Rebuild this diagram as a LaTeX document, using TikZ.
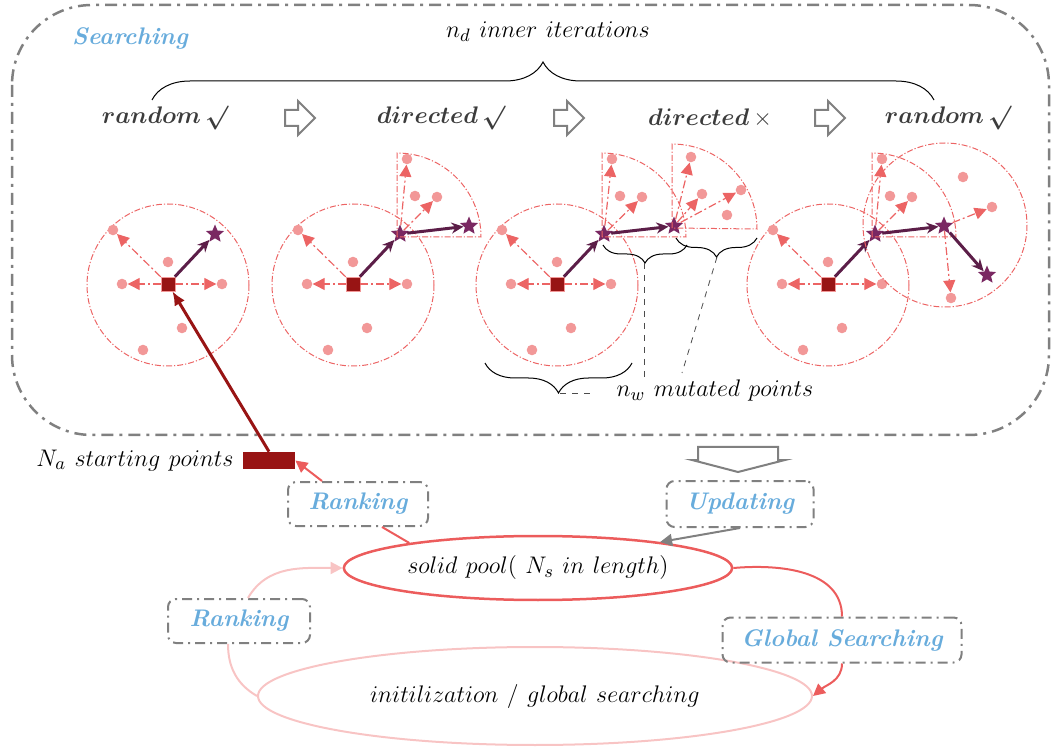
\documentclass[tikz,border=0pt]{standalone}
\usepackage{amsmath}
\usepackage{amssymb}
\usepackage{bm}
\usetikzlibrary{shapes.geometric,shapes.arrows,arrows.meta,decorations.pathreplacing,positioning}

\definecolor{boxgray}{RGB}{128,128,128}
\definecolor{labelblue}{RGB}{104,172,220}
\definecolor{ringred}{RGB}{236,100,100}
\definecolor{dotpink}{RGB}{242,152,152}
\definecolor{startred}{RGB}{152,20,20}
\definecolor{starpurple}{RGB}{122,40,98}
\definecolor{arrowpurple}{RGB}{92,30,72}
\definecolor{poolred}{RGB}{236,92,92}
\definecolor{palepink}{RGB}{248,196,196}
\definecolor{textgray}{RGB}{60,60,60}

\begin{document}
\begin{tikzpicture}[x=0.5pt, y=-0.5pt,
                    every node/.style={font=\fontsize{13}{15}\selectfont},
                    ring/.style={ringred, line width=0.5pt, dash pattern=on 3pt off 1pt on 0.6pt off 1pt},
                    dot/.style={circle, fill=dotpink, inner sep=0pt, minimum size=5.3pt},
                    start/.style={rectangle, fill=startred, draw=dotpink, line width=0.3pt, inner sep=0pt, minimum size=7pt},
                    starnode/.style={star, star points=5, star point ratio=2.2, fill=starpurple, inner sep=0pt, minimum size=9.5pt},
                    mutate/.style={ringred, line width=0.6pt, dash pattern=on 4pt off 1.5pt on 1pt off 1.5pt,
                                   -{Triangle[length=6pt,width=6pt]}},
                    move/.style={arrowpurple, line width=1.5pt, -{Stealth[length=6pt,width=5.5pt]}},
                    stage/.style={text=textgray, font=\fontsize{12.3}{14}\selectfont},
                    hollow/.style={single arrow, draw=boxgray, line width=1pt, fill=white, minimum height=15pt,
                                   minimum width=16pt, inner sep=3.5pt, single arrow head extend=4.5pt},
                    label/.style={draw=boxgray, line width=1pt, dash pattern=on 5pt off 2.5pt on 1pt off 2.5pt,
                                  rounded corners=4pt, text=labelblue, inner sep=0pt,
                                  font=\fontsize{12}{14}\selectfont\bfseries\itshape},
                    curly/.style={decorate, decoration={brace, amplitude=#1}, draw=black, line width=0.5pt},
                    guide/.style={black!70, dashed, line width=0.4pt},
                    redlink/.style={poolred, line width=1pt},
                    palelink/.style={palepink, line width=1pt}]
  \useasboundingbox (0,0) rectangle (1057,749);

  % searching frame
  \draw[boxgray, line width=1.25pt, dash pattern=on 6pt off 3pt on 1.5pt off 3pt, rounded corners=40pt]
    (12,5) rectangle (1049,435);
  \node[font=\fontsize{12}{14}\selectfont\bfseries\itshape, text=labelblue] (searching) at (130,38) {Searching};
  \node (inner) at (548,32) {$n_d\ inner\ iterations$};
  \draw[curly=19pt] (152,100) -- (934,100);

  % stages
  \node[stage] (rnda) at (165,118) {$\bm{random\,\surd}$};
  \node[hollow] (ha) at (296,118) {};
  \node[stage] (dira) at (441,118) {$\bm{directed\,\surd}$};
  \node[hollow] (hb) at (565,118) {};
  \node[stage] (dirb) at (710,118) {$\bm{directed}\,\times$};
  \node[hollow] (hc) at (826,118) {};
  \node[stage] (rndb) at (948,118) {$\bm{random\,\surd}$};

  % neighbourhoods
  \foreach \i/\cx in {1/168,2/353,3/557,4/828}{
    \draw[ring] (\cx,285) circle (81);
    \node[dot] (ul\i) at (\cx-55,230) {};
    \node[dot] (l\i) at (\cx-46,284) {};
    \node[dot] (r\i) at (\cx+54,284) {};
    \node[dot] (t\i) at (\cx,262) {};
    \node[dot] (b\i) at (\cx+14,328) {};
    \node[dot] (bb\i) at (\cx-25,350) {};
    \node[start] (sq\i) at (\cx,284) {};
    \node[starnode] (s\i) at (\cx+47,234) {};
    \draw[mutate] (sq\i) -- (ul\i);
    \draw[mutate] (sq\i) -- (l\i);
    \draw[mutate] (sq\i) -- (r\i);
    \draw[move] (sq\i) -- (s\i);
  }

  % directed sectors
  \foreach \i/\sx in {2/399,3/604,4/874}{
    \draw[ring] (\sx-2,237) -- (\sx-2,153) arc (-90:0:84) -- cycle;
    \node[dot] (sa\i) at (\sx+8,159) {};
    \node[dot] (sb\i) at (\sx+16,196) {};
    \node[dot] (sc\i) at (\sx+38,197) {};
    \node[starnode] (tt\i) at (\sx+70,226) {};
    \draw[mutate] (s\i) -- (sa\i);
    \draw[mutate] (s\i) -- (sc\i);
    \draw[move] (s\i) -- (tt\i);
  }

  % failed directed step
  \draw[ring] (672,228) -- (672,144) arc (-90:0:85) -- cycle;
  \node[dot] (fa) at (691,157) {};
  \node[dot] (fb) at (702,194) {};
  \node[dot] (fc) at (741,190) {};
  \node[dot] (fd) at (727,215) {};
  \draw[mutate] (tt3) -- (fa);
  \draw[mutate] (tt3) -- (fb);
  \draw[mutate] (tt3) -- (fc);

  % random step again
  \draw[ring] (945,225) circle (82);
  \node[dot] (ga) at (963,177) {};
  \node[dot] (gb) at (992,207) {};
  \node[dot] (gc) at (951,298) {};
  \node[starnode] (u4) at (987,275) {};
  \draw[mutate] (tt4) -- (gb);
  \draw[mutate] (tt4) -- (gc);
  \draw[move] (tt4) -- (u4);

  % mutated points
  \draw[curly=9pt] (687,245) -- (603,245);
  \draw[curly=9.5pt] (757,238) -- (676,238);
  \draw[curly=15pt] (632,363) -- (485,363);
  \coordinate (tipa) at (644,263);
  \coordinate (tipb) at (717,257);
  \coordinate (tipc) at (560,393);
  \coordinate (enda) at (644,377);
  \coordinate (endb) at (682,373);
  \coordinate (endc) at (594,393);
  \draw[guide] (tipa) -- (enda);
  \draw[guide] (tipb) -- (endb);
  \draw[guide] (tipc) -- (endc);
  \node (mw) at (715,391) {$n_w\ mutated\ points$};

  % starting points
  \node[rectangle, fill=startred, inner sep=0pt, minimum width=26pt, minimum height=8.5pt] (bar) at (269,460.5) {};
  \node[left=1pt of bar] (na) {$N_a\ starting\ points$};
  \draw[startred, line width=1.5pt, -{Latex[length=7pt,width=6pt]}] (bar.north) -- (sq1);

  % pools
  \node[ellipse, draw=poolred, line width=1.25pt, minimum width=177pt, minimum height=32pt] (pool) at (538,568)
    {$solid\ pool(\ N_s\ in\ length)$};
  \node[ellipse, draw=palepink, line width=1pt, minimum width=277pt, minimum height=49pt] (init) at (535,696)
    {$initilization\ /\ global\ searching$};

  \node[label, minimum width=70pt, minimum height=22pt] (ranka) at (358,504) {Ranking};
  \node[label, minimum width=73.5pt, minimum height=23pt] (upd) at (740,504) {Updating};
  \node[label, minimum width=71pt, minimum height=22pt] (rankb) at (239,621) {Ranking};
  \node[label, minimum width=119.5pt, minimum height=22.5pt] (gs) at (842,640) {Global Searching};

  \draw[boxgray, line width=1pt, fill=white]
    (698,447) -- (778,447) -- (778,460) -- (785,460) -- (738,472) -- (692,460) -- (698,460) -- cycle;

  \draw[redlink] (pool.169) -- ([shift={(24,0)}]ranka.south);
  \draw[redlink, -{Triangle[length=6pt,width=6pt]}] ([shift={(-36,0)}]ranka.north) -- (bar.east);
  \draw[boxgray, line width=1pt, -{Triangle[length=6pt,width=6pt]}] (upd.south) -- (pool.12);
  \draw[redlink] (pool.east) to[out=5,in=90] (gs.north);
  \draw[redlink, -{Triangle[length=6pt,width=6pt]}] (gs.south) to[out=-90,in=40] (init.east);
  \draw[palelink] (init.west) to[out=150,in=-90] ([shift={(-11,0)}]rankb.south);
  \draw[palelink, -{Triangle[length=6pt,width=6pt]}] ([shift={(9,0)}]rankb.north) to[out=60,in=180] (pool.west);
\end{tikzpicture}
\end{document}
